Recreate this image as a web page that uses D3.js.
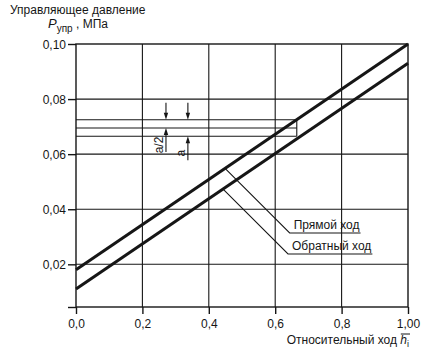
<!DOCTYPE html>
<html><head><meta charset="utf-8">
<script src="https://cdn.jsdelivr.net/npm/d3@7"></script>
<style>
html,body{margin:0;padding:0;background:#fff;}
svg{display:block;font-family:"Liberation Sans",Arial,sans-serif;}
</style></head>
<body><svg id="c" width="423" height="356"></svg>
<script>
// ---- data ----
const xTicks = [0, 0.2, 0.4, 0.6, 0.8, 1.0];
const xTickLabels = ["0,0", "0,2", "0,4", "0,6", "0,8", "1,00"];
const yTicks = [0.02, 0.04, 0.06, 0.08, 0.10];
const yTickLabels = ["0,02", "0,04", "0,06", "0,08", "0,10"];
const seriesNames = ["Прямой ход", "Обратный ход"];
const hValues = [0, 1.0];
const forwardP = [0.018, 0.100];
const reverseP = [0.011, 0.093];
const bandLevels = [0.0725, 0.0695, 0.0665];
const bandEndX = 0.665;
const arrowX = [0.271, 0.337];
const arrowLabels = ["a/2", "a"];
const arrowSpans = [[0.0725, 0.0695], [0.0725, 0.0665]];
const leaderAnchorX = [0.449, 0.443];

// ---- scales ----
const ink = "#161616";
const svg = d3.select("#c");
const x = d3.scaleLinear().domain([0, 1]).range([76, 408]);
const y = d3.scaleLinear().domain([0.0045, 0.10]).range([307, 44]);

// grid
const g = svg.append("g");
g.selectAll(".vg").data(xTicks.slice(1, -1)).join("line")
  .attr("x1", d => x(d)).attr("x2", d => x(d)).attr("y1", y(0.10)).attr("y2", y.range()[0])
  .attr("stroke", ink).attr("stroke-width", 1.1);
g.selectAll(".hg").data(yTicks.slice(0, -1)).join("line")
  .attr("x1", x(0)).attr("x2", x(1)).attr("y1", d => y(d)).attr("y2", d => y(d))
  .attr("stroke", ink).attr("stroke-width", 1.1);
// frame
g.append("rect").attr("x", x(0)).attr("y", y(0.10)).attr("width", x(1) - x(0)).attr("height", y.range()[0] - y(0.10))
  .attr("fill", "none").attr("stroke", ink).attr("stroke-width", 1.4);

// axes
const yAx = d3.axisLeft(y).tickValues([y.domain()[0]].concat(yTicks))
  .tickFormat(d => { const i = yTicks.indexOf(d); return i < 0 ? "" : yTickLabels[i]; })
  .tickSize(8).tickPadding(2).tickSizeOuter(0);
const ya = svg.append("g").attr("transform", `translate(${x(0)},0)`).call(yAx);
const xAx = d3.axisBottom(x).tickValues(xTicks).tickFormat((d, i) => xTickLabels[i])
  .tickSize(7).tickPadding(5).tickSizeOuter(0);
const xa = svg.append("g").attr("transform", `translate(0,${y.range()[0]})`).call(xAx);
[ya, xa].forEach(a => {
  a.select(".domain").remove();
  a.selectAll("line").attr("stroke", ink).attr("stroke-width", 1.4);
  a.selectAll("text").attr("fill", ink).style("font-size", "12px").style("font-family", '"Liberation Sans",Arial,sans-serif');
});
ya.selectAll("text").attr("dy", "0.36em");

// band lines
g.selectAll(".band").data(bandLevels).join("line")
  .attr("x1", x(0)).attr("x2", x(bandEndX)).attr("y1", d => y(d)).attr("y2", d => y(d))
  .attr("stroke", ink).attr("stroke-width", 1.1);
g.append("line").attr("x1", x(bandEndX)).attr("x2", x(bandEndX))
  .attr("y1", y(bandLevels[0])).attr("y2", y(bandLevels[2])).attr("stroke", ink).attr("stroke-width", 1.1);

// series lines
const line = d3.line().x(d => x(d[0])).y(d => y(d[1]));
[forwardP, reverseP].forEach(vals => {
  svg.append("path").datum(hValues.map((h, i) => [h, vals[i]])).attr("d", line)
    .attr("fill", "none").attr("stroke", ink).attr("stroke-width", 3);
});

// arrows
arrowX.forEach((ax, i) => {
  const px = x(ax), top = y(arrowSpans[i][0]), bot = y(arrowSpans[i][1]);
  const s = svg.append("g").attr("stroke", ink).attr("fill", ink);
  s.append("line").attr("x1", px).attr("x2", px).attr("y1", top - 17).attr("y2", top - 5).attr("stroke-width", 1.1);
  s.append("path").attr("d", `M${px - 2.2},${top - 7}L${px + 2.2},${top - 7}L${px},${top}Z`).attr("stroke", "none");
  s.append("line").attr("x1", px).attr("x2", px).attr("y1", bot + 5).attr("y2", bot + 24).attr("stroke-width", 1.1);
  s.append("path").attr("d", `M${px - 2.2},${bot + 7}L${px + 2.2},${bot + 7}L${px},${bot}Z`).attr("stroke", "none");
  svg.append("text").attr("transform", `translate(${px - 3},${bot + 17}) rotate(-90)`)
    .attr("text-anchor", "middle").attr("fill", ink).style("font-size", "12px").text(arrowLabels[i]);
});

// leaders
const leaderBase = [forwardP, reverseP];
const leaderY = [233, 254];
leaderAnchorX.forEach((lx, i) => {
  const p = leaderBase[i];
  const vy = p[0] + (p[1] - p[0]) * lx;
  const sx = x(lx), sy = y(vy);
  const ey = leaderY[i];
  const ex = sx + (ey - sy);
  const tx = ex + 4;
  const txt = svg.append("text").attr("x", tx).attr("y", ey - 4).attr("fill", ink)
    .style("font-size", "12px").text(seriesNames[i]);
  const w = txt.node().getComputedTextLength();
  svg.append("path").attr("d", `M${sx},${sy}L${ex},${ey}L${tx + w + 1},${ey}`)
    .attr("fill", "none").attr("stroke", ink).attr("stroke-width", 1.1);
});

// titles
svg.append("text").attr("x", 10).attr("y", 14).attr("fill", ink).style("font-size", "12px").text("Управляющее давление");
const t2 = svg.append("text").attr("x", 48).attr("y", 28).attr("fill", ink).style("font-size", "12px");
t2.append("tspan").style("font-style", "italic").style("font-size", "13px").text("P");
t2.append("tspan").attr("dy", 4).style("font-size", "10px").text("упр");
t2.append("tspan").attr("dy", -4).text(" , МПа");

const xlPrefix = "Относительный ход ";
const xl = svg.append("text").attr("x", 409).attr("y", 344).attr("text-anchor", "end").attr("fill", ink).style("font-size", "12px");
xl.append("tspan").text(xlPrefix);
xl.append("tspan").style("font-style", "italic").text("h");
xl.append("tspan").attr("dy", 3).style("font-size", "9px").text("i");
// overline above h
const ext = xl.node().getExtentOfChar(xlPrefix.length);
svg.append("line").attr("x1", ext.x + 0.5).attr("x2", ext.x + ext.width + 3)
  .attr("y1", ext.y + 1).attr("y2", ext.y + 1).attr("stroke", ink).attr("stroke-width", 1);
</script></body></html>
